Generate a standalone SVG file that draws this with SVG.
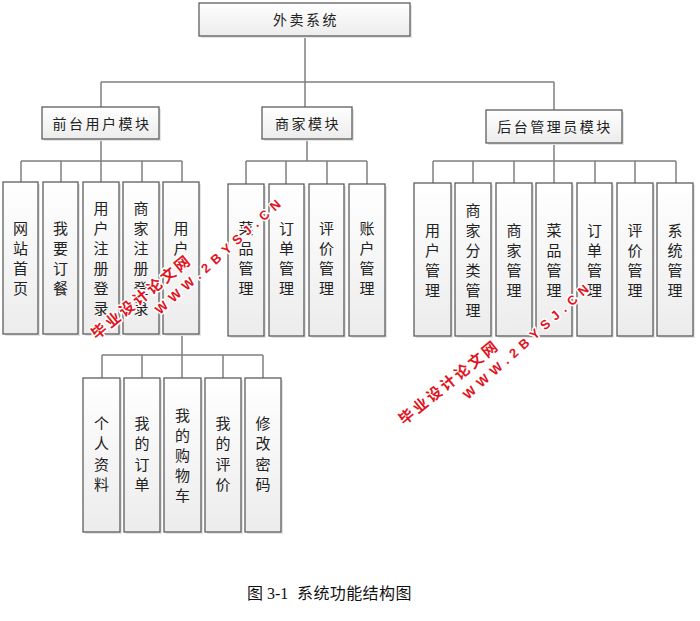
<svg xmlns="http://www.w3.org/2000/svg" width="700" height="621" viewBox="0 0 700 621">
<defs>
<linearGradient id="g" x1="0" y1="0" x2="0" y2="1">
<stop offset="0" stop-color="#ffffff"/>
<stop offset="1" stop-color="#ececec"/>
</linearGradient>
<style>
.b{fill:url(#g);stroke:#5e5e5e;stroke-width:1.3}
.sh{fill:#e4e4e4}
.c{fill:none;stroke:#808080;stroke-width:1.5}
.t{font-family:"Noto Sans CJK SC","Noto Sans",sans-serif;font-size:14px;fill:#222;text-anchor:middle}
.h{letter-spacing:2.5px}
.v{font-size:15px}
.wm{font-weight:bold;fill:#e0141e;stroke:#ffffff;stroke-width:3;paint-order:stroke;stroke-linejoin:round;text-anchor:middle}
.wc{font-family:"Noto Sans CJK SC",sans-serif;font-size:15px;letter-spacing:2.8px}
.we{font-family:"Liberation Sans",sans-serif;font-size:13px;letter-spacing:5.5px}
.cap{font-family:"Liberation Serif","Noto Sans CJK SC",serif;font-size:16px;fill:#111}
.cz{font-family:"Noto Sans CJK SC",serif;letter-spacing:0.4px}
</style>
</defs>
<rect width="700" height="621" fill="#ffffff"/>

<g id="connectors">
<path class="c" d="M305,36V107M101,82H554M101,82V107M554,82V110"/>
<path class="c" d="M101,139V161M21,161H182M21,161V182M61,161V182M101,161V182M142,161V182M182,161V182"/>
<path class="c" d="M307,139V161M246,161H367M246,161V184M286,161V184M327,161V184M367,161V184"/>
<path class="c" d="M554,143V161M433,161H676M433,161V183M473,161V183M514,161V183M554,161V183M595,161V183M635,161V183M676,161V183"/>
<path class="c" d="M182,334V355M102,355H263M102,355V378M142,355V378M182,355V378M223,355V378M263,355V378"/>
</g>

<g id="n-root"><rect class="sh" x="201" y="5" width="211" height="33"/><rect class="b" x="199" y="3" width="211" height="33"/><text class="t h" x="306" y="25">外卖系统</text></g>
<g id="n-front"><rect class="sh" x="44" y="109" width="117" height="32"/><rect class="b" x="42" y="107" width="117" height="32"/><text class="t h" x="102" y="129">前台用户模块</text></g>
<g id="n-merchant"><rect class="sh" x="264" y="109" width="90" height="32"/><rect class="b" x="262" y="107" width="90" height="32"/><text class="t h" x="308" y="129">商家模块</text></g>
<g id="n-admin"><rect class="sh" x="488" y="112" width="136" height="33"/><rect class="b" x="486" y="110" width="136" height="33"/><text class="t h" x="555" y="132">后台管理员模块</text></g>

<g id="n-f1"><rect class="sh" x="5" y="184" width="35" height="152"/><rect class="b" x="3" y="182" width="35" height="152"/><text class="t v"><tspan x="20.5" y="233.5">网</tspan><tspan x="20.5" y="253.5">站</tspan><tspan x="20.5" y="273.5">首</tspan><tspan x="20.5" y="293.5">页</tspan></text></g>
<g id="n-f2"><rect class="sh" x="45" y="184" width="35" height="152"/><rect class="b" x="43" y="182" width="35" height="152"/><text class="t v"><tspan x="60.5" y="233.5">我</tspan><tspan x="60.5" y="253.5">要</tspan><tspan x="60.5" y="273.5">订</tspan><tspan x="60.5" y="293.5">餐</tspan></text></g>
<g id="n-f3"><rect class="sh" x="85" y="184" width="36" height="152"/><rect class="b" x="83" y="182" width="36" height="152"/><text class="t v"><tspan x="101" y="213.5">用</tspan><tspan x="101" y="233.5">户</tspan><tspan x="101" y="253.5">注</tspan><tspan x="101" y="273.5">册</tspan><tspan x="101" y="293.5">登</tspan><tspan x="101" y="313.5">录</tspan></text></g>
<g id="n-f4"><rect class="sh" x="125" y="184" width="36" height="152"/><rect class="b" x="123" y="182" width="36" height="152"/><text class="t v"><tspan x="141" y="213.5">商</tspan><tspan x="141" y="233.5">家</tspan><tspan x="141" y="253.5">注</tspan><tspan x="141" y="273.5">册</tspan><tspan x="141" y="293.5">登</tspan><tspan x="141" y="313.5">录</tspan></text></g>
<g id="n-f5"><rect class="sh" x="165" y="184" width="36" height="152"/><rect class="b" x="163" y="182" width="36" height="152"/><text class="t v"><tspan x="181" y="233.5">用</tspan><tspan x="181" y="253.5">户</tspan></text></g>

<g id="n-m1"><rect class="sh" x="230" y="186" width="36" height="152"/><rect class="b" x="228" y="184" width="36" height="152"/><text class="t v"><tspan x="246" y="233.5">菜</tspan><tspan x="246" y="253.5">品</tspan><tspan x="246" y="273.5">管</tspan><tspan x="246" y="293.5">理</tspan></text></g>
<g id="n-m2"><rect class="sh" x="271" y="186" width="35" height="152"/><rect class="b" x="269" y="184" width="35" height="152"/><text class="t v"><tspan x="286.5" y="233.5">订</tspan><tspan x="286.5" y="253.5">单</tspan><tspan x="286.5" y="273.5">管</tspan><tspan x="286.5" y="293.5">理</tspan></text></g>
<g id="n-m3"><rect class="sh" x="311" y="186" width="35" height="152"/><rect class="b" x="309" y="184" width="35" height="152"/><text class="t v"><tspan x="326.5" y="233.5">评</tspan><tspan x="326.5" y="253.5">价</tspan><tspan x="326.5" y="273.5">管</tspan><tspan x="326.5" y="293.5">理</tspan></text></g>
<g id="n-m4"><rect class="sh" x="351" y="186" width="36" height="152"/><rect class="b" x="349" y="184" width="36" height="152"/><text class="t v"><tspan x="367" y="233.5">账</tspan><tspan x="367" y="253.5">户</tspan><tspan x="367" y="273.5">管</tspan><tspan x="367" y="293.5">理</tspan></text></g>

<g id="n-a1"><rect class="sh" x="416" y="185" width="37" height="153"/><rect class="b" x="414" y="183" width="37" height="153"/><text class="t v"><tspan x="432.5" y="235.5">用</tspan><tspan x="432.5" y="255.5">户</tspan><tspan x="432.5" y="275.5">管</tspan><tspan x="432.5" y="295.5">理</tspan></text></g>
<g id="n-a2"><rect class="sh" x="457" y="185" width="36" height="153"/><rect class="b" x="455" y="183" width="36" height="153"/><text class="t v"><tspan x="473" y="215.5">商</tspan><tspan x="473" y="235.5">家</tspan><tspan x="473" y="255.5">分</tspan><tspan x="473" y="275.5">类</tspan><tspan x="473" y="295.5">管</tspan><tspan x="473" y="315.5">理</tspan></text></g>
<g id="n-a3"><rect class="sh" x="498" y="185" width="36" height="153"/><rect class="b" x="496" y="183" width="36" height="153"/><text class="t v"><tspan x="514" y="235.5">商</tspan><tspan x="514" y="255.5">家</tspan><tspan x="514" y="275.5">管</tspan><tspan x="514" y="295.5">理</tspan></text></g>
<g id="n-a4"><rect class="sh" x="538" y="185" width="36" height="153"/><rect class="b" x="536" y="183" width="36" height="153"/><text class="t v"><tspan x="554" y="235.5">菜</tspan><tspan x="554" y="255.5">品</tspan><tspan x="554" y="275.5">管</tspan><tspan x="554" y="295.5">理</tspan></text></g>
<g id="n-a5"><rect class="sh" x="579" y="185" width="35" height="153"/><rect class="b" x="577" y="183" width="35" height="153"/><text class="t v"><tspan x="594.5" y="235.5">订</tspan><tspan x="594.5" y="255.5">单</tspan><tspan x="594.5" y="275.5">管</tspan><tspan x="594.5" y="295.5">理</tspan></text></g>
<g id="n-a6"><rect class="sh" x="619" y="185" width="36" height="153"/><rect class="b" x="617" y="183" width="36" height="153"/><text class="t v"><tspan x="635" y="235.5">评</tspan><tspan x="635" y="255.5">价</tspan><tspan x="635" y="275.5">管</tspan><tspan x="635" y="295.5">理</tspan></text></g>
<g id="n-a7"><rect class="sh" x="659" y="185" width="36" height="153"/><rect class="b" x="657" y="183" width="36" height="153"/><text class="t v"><tspan x="675" y="235.5">系</tspan><tspan x="675" y="255.5">统</tspan><tspan x="675" y="275.5">管</tspan><tspan x="675" y="295.5">理</tspan></text></g>

<g id="n-u1"><rect class="sh" x="85" y="380" width="37" height="154"/><rect class="b" x="83" y="378" width="37" height="154"/><text class="t v"><tspan x="101.5" y="428.5">个</tspan><tspan x="101.5" y="449">人</tspan><tspan x="101.5" y="469.5">资</tspan><tspan x="101.5" y="490">料</tspan></text></g>
<g id="n-u2"><rect class="sh" x="126" y="380" width="36" height="154"/><rect class="b" x="124" y="378" width="36" height="154"/><text class="t v"><tspan x="142" y="428.5">我</tspan><tspan x="142" y="449">的</tspan><tspan x="142" y="469.5">订</tspan><tspan x="142" y="490">单</tspan></text></g>
<g id="n-u3"><rect class="sh" x="166" y="380" width="37" height="154"/><rect class="b" x="164" y="378" width="37" height="154"/><text class="t v"><tspan x="182.5" y="420.5">我</tspan><tspan x="182.5" y="440.5">的</tspan><tspan x="182.5" y="460.5">购</tspan><tspan x="182.5" y="480.5">物</tspan><tspan x="182.5" y="500.5">车</tspan></text></g>
<g id="n-u4"><rect class="sh" x="207" y="380" width="36" height="154"/><rect class="b" x="205" y="378" width="36" height="154"/><text class="t v"><tspan x="223" y="428.5">我</tspan><tspan x="223" y="449">的</tspan><tspan x="223" y="469.5">评</tspan><tspan x="223" y="490">价</tspan></text></g>
<g id="n-u5"><rect class="sh" x="247" y="380" width="36" height="154"/><rect class="b" x="245" y="378" width="36" height="154"/><text class="t v"><tspan x="263" y="428.5">修</tspan><tspan x="263" y="449">改</tspan><tspan x="263" y="469.5">密</tspan><tspan x="263" y="490">码</tspan></text></g>

<g id="watermark">
<g transform="translate(141.5,296.5) rotate(-39)"><text class="wm wc" x="0" y="5.5">毕业设计论文网</text></g>
<g transform="translate(220,255) rotate(-42)"><text class="wm we" x="0" y="4.5">WWW.2BYSJ.CN</text></g>
<g transform="translate(449,382) rotate(-39)"><text class="wm wc" x="0" y="5.5">毕业设计论文网</text></g>
<g transform="translate(528,340) rotate(-42)"><text class="wm we" x="0" y="4.5">WWW.2BYSJ.CN</text></g>
</g>

<text class="cap" y="599"><tspan class="cz" x="247">图</tspan><tspan x="267">3-1</tspan><tspan class="cz" x="297">系统功能结构图</tspan></text>
</svg>
